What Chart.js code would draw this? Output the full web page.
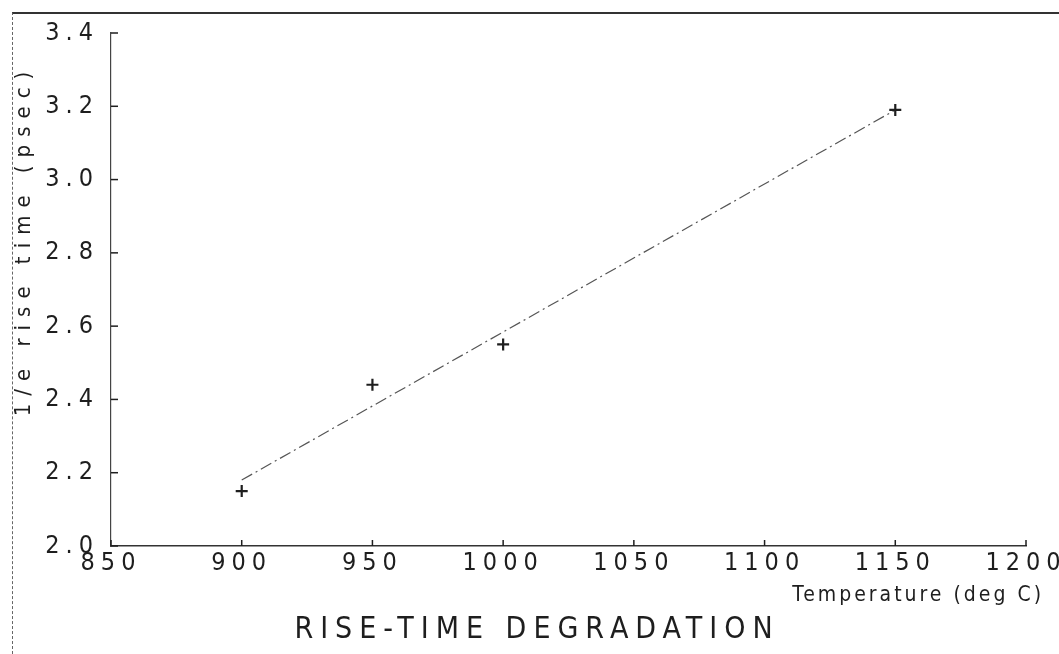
<!DOCTYPE html>
<html>
<head>
<meta charset="utf-8">
<script src="https://cdn.jsdelivr.net/npm/chart.js@4"></script>
<style>
  html, body { margin: 0; padding: 0; background: #fff; }
  #wrap { position: relative; width: 1059px; height: 654px; }
  #frame {
    position: absolute; left: 12px; top: 12px; width: 1047px; height: 642px;
    border-top: 2px solid #333; border-left: 1px dashed #666; box-sizing: border-box;
    pointer-events: none;
  }
</style>
</head>
<body>
<div id="wrap">
  <canvas id="riseChart" width="1059" height="654"></canvas>
  <div id="frame"></div>
</div>
<script>
const temps = [900, 950, 1000, 1150];
const riseTimes = [2.15, 2.44, 2.55, 3.19];

// least-squares line endpoints
const fitTemps = [900, 1150];
const fitValues = [2.18, 3.19];

const xTickLabels = ["850", "900", "950", "1000", "1050", "1100", "1150", "1200"];
const yTickLabels = ["2.0", "2.2", "2.4", "2.6", "2.8", "3.0", "3.2", "3.4"];

const FONT = "'Liberation Sans Narrow', 'DejaVu Sans Condensed', sans-serif";
const INK = "#1e1e1e";

// plotter style: ticks drawn inward plus the hand-placed captions
const plotterMarks = {
  id: "plotterMarks",
  beforeDraw(chart) {
    chart.ctx.letterSpacing = "6px";
  },
  afterDraw(chart) {
    const { ctx, chartArea, scales } = chart;
    ctx.save();
    ctx.strokeStyle = INK;
    ctx.lineWidth = 1.5;
    scales.y.ticks.forEach(t => {
      const y = scales.y.getPixelForValue(t.value);
      ctx.beginPath();
      ctx.moveTo(chartArea.left, y);
      ctx.lineTo(chartArea.left + 7, y);
      ctx.stroke();
    });
    scales.x.ticks.forEach(t => {
      const x = scales.x.getPixelForValue(t.value);
      ctx.beginPath();
      ctx.moveTo(x, chartArea.bottom);
      ctx.lineTo(x, chartArea.bottom - 6);
      ctx.stroke();
    });

    ctx.fillStyle = INK;
    ctx.textBaseline = "middle";

    ctx.letterSpacing = "3px";
    ctx.font = "21px " + FONT;
    ctx.textAlign = "right";
    ctx.fillText("Temperature (deg C)", 1044, 596);

    ctx.letterSpacing = "7px";
    ctx.font = "30px " + FONT;
    ctx.textAlign = "center";
    ctx.fillText("RISE-TIME DEGRADATION", 537, 630);

    ctx.save();
    ctx.translate(24, 240);
    ctx.rotate(-Math.PI / 2);
    ctx.letterSpacing = "8px";
    ctx.font = "22px " + FONT;
    ctx.fillText("1/e rise time (psec)", 0, 0);
    ctx.restore();

    ctx.restore();
  }
};

new Chart(document.getElementById("riseChart"), {
  type: "scatter",
  data: {
    datasets: [
      {
        label: "measured",
        data: temps.map((t, i) => ({ x: t, y: riseTimes[i] })),
        pointStyle: "cross",
        pointRadius: 6,
        borderWidth: 2.2,
        borderColor: INK,
        backgroundColor: INK
      },
      {
        label: "fit",
        data: fitTemps.map((t, i) => ({ x: t, y: fitValues[i] })),
        showLine: true,
        pointRadius: 0,
        borderWidth: 1.2,
        borderColor: "#555",
        borderDash: [12, 4, 2, 4]
      }
    ]
  },
  options: {
    responsive: false,
    animation: false,
    layout: { padding: { top: 33, right: 33, bottom: 0, left: 0 } },
    plugins: { legend: { display: false }, tooltip: { enabled: false } },
    scales: {
      x: {
        type: "linear",
        min: 850,
        max: 1200,
        afterBuildTicks: s => { s.ticks = xTickLabels.map(v => ({ value: Number(v) })); },
        afterFit: s => { s.height = 108; },
        ticks: {
          callback: (v, i) => xTickLabels[i],
          color: INK,
          font: { family: FONT, size: 25 },
          padding: 2,
          maxRotation: 0
        },
        grid: { display: false, drawTicks: false },
        border: { display: true, color: "#333", width: 1.5, dash: [30, 3] }
      },
      y: {
        min: 2.0,
        max: 3.4,
        afterBuildTicks: s => { s.ticks = yTickLabels.map(v => ({ value: Number(v) })); },
        afterFit: s => { s.width = 111; },
        ticks: {
          callback: (v, i) => yTickLabels[i],
          color: INK,
          font: { family: FONT, size: 25 },
          padding: 12
        },
        grid: { display: false, drawTicks: false },
        border: { display: true, color: "#444", width: 1.2, dash: [9, 3, 2, 3] }
      }
    }
  },
  plugins: [plotterMarks]
});
</script>
</body>
</html>
